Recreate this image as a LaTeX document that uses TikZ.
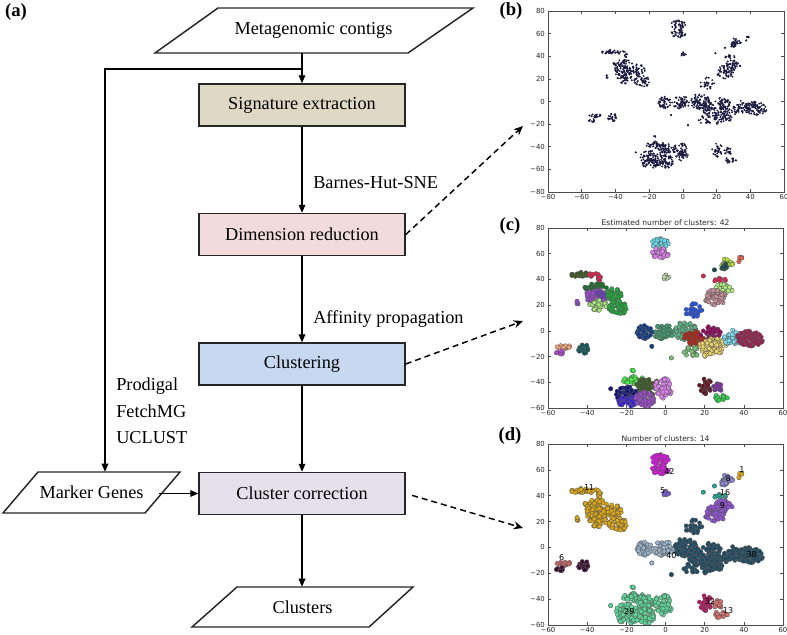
\documentclass[tikz,border=0pt]{standalone}
\usepackage{fontspec}
\setmainfont{Liberation Serif}
\newfontfamily\plotfont{DejaVu Sans}
\usetikzlibrary{arrows.meta}
% flowchart fills
\definecolor{sigfill}{HTML}{DDD9C4}
\definecolor{dimfill}{HTML}{F2DCDB}
\definecolor{clufill}{HTML}{C6D9F1}
\definecolor{corfill}{HTML}{E5E0EC}
% plot (c) colours
\definecolor{cCyan}{HTML}{66DDEE}\definecolor{cViolet}{HTML}{E080F0}
\definecolor{cPaleGreen}{HTML}{C0D8B0}\definecolor{cOlive}{HTML}{3C5A1E}
\definecolor{cCrimson}{HTML}{E0204C}\definecolor{cDkGreen}{HTML}{1E6E2E}
\definecolor{cPurple}{HTML}{9A48D0}\definecolor{cLtGreen}{HTML}{A6E878}
\definecolor{cGreen}{HTML}{1EA83A}\definecolor{cSalmon}{HTML}{F4A878}
\definecolor{cMagPur}{HTML}{B048D8}\definecolor{cTeal}{HTML}{0E5A5A}
\definecolor{cBlueV}{HTML}{3A1EE0}\definecolor{cNavy}{HTML}{10107A}
\definecolor{cBrGreen}{HTML}{40F040}\definecolor{cDkTeal}{HTML}{0E4A4A}
\definecolor{cYelGreen}{HTML}{B8E030}\definecolor{cOrange}{HTML}{E86048}
\definecolor{cLtGreenB}{HTML}{B0F080}\definecolor{cRosy}{HTML}{C88E98}
\definecolor{cDkBlue}{HTML}{0E3A8A}\definecolor{cSeaGreen}{HTML}{3E9A6A}
\definecolor{cMedSea}{HTML}{5AB482}\definecolor{cRed}{HTML}{B82010}
\definecolor{cDkMag}{HTML}{960060}\definecolor{cKhaki}{HTML}{ECD46A}
\definecolor{cBlue}{HTML}{2050E8}\definecolor{cLtSea}{HTML}{78C878}
\definecolor{cSky}{HTML}{78DCF4}\definecolor{cRasp}{HTML}{A01E50}
\definecolor{cDkMaroon}{HTML}{641420}\definecolor{cPurpleB}{HTML}{8030A8}
\definecolor{cGreenB}{HTML}{28D848}\definecolor{cPurpleD}{HTML}{6A3AC8}
% plot (d) colours
\definecolor{dMag}{HTML}{E010E8}\definecolor{dViolet}{HTML}{7A5AE0}
\definecolor{dGold}{HTML}{E0A810}\definecolor{dRose}{HTML}{C86468}
\definecolor{dDark}{HTML}{3A0A2E}\definecolor{dSea}{HTML}{5AD898}
\definecolor{dLav}{HTML}{8C88DC}\definecolor{dTeal}{HTML}{20A898}
\definecolor{dPurple}{HTML}{9050D8}\definecolor{dSteel}{HTML}{98B4CC}
\definecolor{dSlate}{HTML}{1C4A64}\definecolor{dCrimMag}{HTML}{C01468}
\definecolor{dSalmon}{HTML}{D87068}
\definecolor{bdotcol}{HTML}{1A1A40}

\def\plotmode{0}
\newcommand\clu[7]{% cx cy hx hy n colour(c) colour(d)
  \pgfmathtruncatemacro\nn{max(1,round(#5*1.5))}%
  \foreach \k in {1,...,\nn}{%
    \pgfmathsetmacro\rr{pow(rnd,0.62)}%
    \pgfmathsetmacro\aa{360*rnd}%
    \pgfmathsetmacro\cpx{#1+#3*\rr*cos(\aa)}%
    \pgfmathsetmacro\cpy{#2+#4*\rr*sin(\aa)}%
    \ifnum\plotmode=0
      \fill[bdotcol] (\cpx,\cpy) circle (0.8pt);
    \else\ifnum\plotmode=1
      \filldraw[cdot,fill=#6] (\cpx,\cpy) circle (1.6pt);
    \else
      \filldraw[cdot,fill=#7] (\cpx,\cpy) circle (1.6pt);
    \fi\fi
  }%
}
\newcommand\allclusters{%
  \pgfmathsetseed{4711}%
  % top centre
  \clu{-2.5}{68}{4.5}{3.8}{22}{cCyan}{dMag}
  \clu{-2.5}{60.7}{4.5}{4.2}{23}{cViolet}{dMag}
  \clu{0}{42}{2}{1.5}{6}{cPaleGreen}{dViolet}
  % upper left
  \clu{-43.5}{43.5}{4.5}{2.3}{18}{cOlive}{dGold}
  \clu{-36.5}{44}{2.5}{2}{6}{cCrimson}{dGold}
  \clu{-33}{40.5}{1.5}{1.8}{4}{cCrimson}{dGold}
  \clu{-36}{34}{6}{3.2}{23}{cDkGreen}{dGold}
  \clu{-35.5}{27}{6.5}{4.5}{35}{cPurple}{dGold}
  \clu{-33}{28}{3}{3}{8}{cPurpleD}{dGold}
  \clu{-34.5}{20}{4.5}{4.2}{23}{cLtGreen}{dGold}
  \clu{-26.5}{28}{4}{5}{24}{cGreen}{dGold}
  \clu{-24}{18}{5}{5}{30}{cGreen}{dGold}
  \clu{-45}{22}{1}{1.2}{3}{cPurple}{dGold}
  % left small
  \clu{-52}{-12.2}{3.8}{2}{12}{cSalmon}{dRose}
  \clu{-53.5}{-16.5}{2.5}{1.8}{6}{cMagPur}{dDark}
  \clu{-42}{-14}{3.5}{3.5}{15}{cTeal}{dDark}
  % bottom centre
  \clu{-16}{-38.5}{6}{3.5}{25}{cBrGreen}{dSea}
  \clu{-9}{-43}{5.8}{7}{40}{cOlive}{dSea}
  \clu{-20}{-49}{5.5}{6}{40}{cNavy}{dSea}
  \clu{-19}{-55}{6}{4}{29}{cBlueV}{dSea}
  \clu{-10.5}{-53}{5}{6}{36}{cPurple}{dSea}
  \clu{-1}{-44.5}{4.5}{8}{40}{cViolet}{dSea}
  \clu{-28}{-45}{0}{0}{1}{cNavy}{dSea}
  \clu{-17}{-31}{1}{0.5}{2}{cBrGreen}{dSea}
  % right top
  \clu{31}{52}{3.5}{4}{17}{cYelGreen}{dLav}
  \clu{30}{50.5}{2}{3}{7}{cDkTeal}{dLav}
  \clu{39}{57}{1.5}{1.3}{3}{cOrange}{dGold}
  \clu{37.5}{54}{0}{0}{1}{cOrange}{dGold}
  \clu{19.3}{42.7}{0}{0}{1}{cCrimson}{dTeal}
  \clu{25}{47.5}{0}{0}{1}{cDkTeal}{dTeal}
  \clu{28}{39.5}{3}{2}{8}{cCrimson}{dTeal}
  \clu{30}{33}{4.8}{3.7}{21}{cLtGreenB}{dPurple}
  \clu{25.5}{26}{5.5}{6}{38}{cRosy}{dPurple}
  % central
  \clu{14}{16}{4.7}{5.3}{18}{cBlue}{dSlate}
  \clu{-10.5}{-1}{4.2}{5.5}{28}{cDkBlue}{dSteel}
  \clu{-1}{-1}{5}{6}{36}{cSeaGreen}{dSteel}
  \clu{10}{0}{6}{7}{50}{cMedSea}{dSlate}
  \clu{14.5}{-5.5}{5}{6}{36}{cRed}{dSlate}
  \clu{23}{-1.5}{5.5}{5}{33}{cDkMag}{dSlate}
  \clu{24}{-12}{7}{6.5}{55}{cKhaki}{dSlate}
  \clu{34.5}{-5}{5.5}{6}{30}{cSky}{dSlate}
  \clu{43}{-6}{7}{6}{60}{cRasp}{dSlate}
  \clu{13.5}{-16}{4.3}{4}{15}{cLtSea}{dSlate}
  \clu{3}{-21}{0}{0}{1}{cLtSea}{dSlate}
  \clu{-7}{-12}{0}{0}{1}{cDkBlue}{dSteel}
  \clu{20}{-19}{1}{1}{2}{cKhaki}{dSlate}
  % bottom right
  \clu{20.5}{-43}{3.7}{6}{20}{cDkMaroon}{dCrimMag}
  \clu{27}{-44}{2.7}{3.5}{11}{cPurpleB}{dSalmon}
  \clu{28.5}{-52}{3.5}{2.8}{12}{cGreenB}{dSalmon}
}
\newcommand\tl[1]{\ifnum#1<0 −\number\numexpr0-(#1)\relax\else#1\fi}
\newcommand\axesbox[6]{%
  \draw[frame] (#1,#3) rectangle (#2,#4);
  \foreach \t in {#5}{%
    \draw[tickmark] (\t,#3) -- ++(0,2.5pt);
    \draw[tickmark] (\t,#4) -- ++(0,-2.5pt);
    \node[ticklab,anchor=north,yshift=-0.8pt] at (\t,#3) {\tl{\t}};
  }
  \foreach \t in {#6}{%
    \draw[tickmark] (#1,\t) -- ++(2.5pt,0);
    \draw[tickmark] (#2,\t) -- ++(-2.5pt,0);
    \node[ticklab,anchor=east,xshift=-1.2pt] at (#1,\t) {\tl{\t}};
  }
}

\tikzset{
  box/.style={draw=black!85, line width=1.1pt, minimum width=154.5pt,
    minimum height=31.5pt, inner sep=0pt, font=\fontsize{13.7}{16}\selectfont},
  para/.style={draw=black!85, line width=1.1pt},
  iotext/.style={inner sep=0pt, font=\fontsize{13.7}{16}\selectfont},
  lbl/.style={inner sep=0pt, font=\fontsize{13.7}{19.9}\selectfont},
  flow/.style={line width=0.9pt, -{Triangle[length=6pt,width=5pt]}},
  dashlink/.style={line width=1.1pt, dash pattern=on 4.5pt off 3pt,
    -{Stealth[length=7pt,width=6pt]}},
  panel/.style={inner sep=0pt, font=\bfseries\fontsize{14}{16}\selectfont},
  cdot/.style={draw=black!65, line width=0.25pt},
  frame/.style={draw=black!70, line width=0.6pt},
  tickmark/.style={draw=black!70, line width=0.4pt},
  ticklab/.style={inner sep=1pt, text=black!85, font=\plotfont\fontsize{5.2}{6}\selectfont},
  ptitle/.style={inner sep=1.5pt, text=black!85, font=\plotfont\fontsize{5.7}{7}\selectfont},
  clab/.style={inner sep=0pt, font=\plotfont\fontsize{6}{7}\selectfont},
}

\begin{document}
\begin{tikzpicture}[x=0.75pt,y=-0.75pt]
\useasboundingbox (0,0) rectangle (787,634);

% ---------- flowchart ----------
\node[panel] (pa) at (16,12) {(a)};

\draw[para] (218,8) -- (473,8) -- (408,53) -- (155,53) -- cycle;
\node[iotext, minimum height=33.75pt] (meta) at (313.5,30.5) {Metagenomic contigs};

\node[box, fill=sigfill] (sig) at (302,105) {Signature extraction};
\node[box, fill=dimfill] (dim) at (302,234.5) {Dimension reduction};
\node[box, fill=clufill] (clu) at (302,364) {Clustering};
\node[box, fill=corfill] (cor) at (302,493.5) {Cluster correction};

\draw[para] (38,472) -- (180,472) -- (145,513) -- (3,513) -- cycle;
\node[iotext, minimum height=30.75pt, minimum width=101.25pt] (mg) at (91.5,492.5) {Marker Genes};

\draw[para] (237,587) -- (413,587) -- (369,627) -- (192,627) -- cycle;
\node[iotext, minimum height=30pt] (out) at (302.5,607) {Clusters};

\node[lbl, anchor=west] (bh) at (313,183) {Barnes-Hut-SNE};
\node[lbl, anchor=west] (ap) at (313,319) {Affinity propagation};
\node[lbl, anchor=west, align=left] (tools) at (116,411) {Prodigal\\FetchMG\\UCLUST};

\coordinate (j) at (302,69);
\coordinate (k) at (105,69);
\draw[flow] (meta.south -| sig.north) -- (sig.north);
\draw[flow] (j) -- (k) -- (k |- mg.north);
\draw[flow] (sig.south) -- (dim.north);
\draw[flow] (dim.south) -- (clu.north);
\draw[flow] (clu.south) -- (cor.north);
\draw[flow] (mg.east |- cor.west) -- (cor.west);
\draw[flow] (cor.south) -- (cor.south |- out.north);

\coordinate (tb) at (523,126);
\coordinate (tc) at (523,321);
\coordinate (td) at (523,528);
\draw[dashlink] (dim.east) -- (tb);
\draw[dashlink] (clu.east) -- (tc);
\draw[dashlink, shorten <=5pt] (cor.east) -- (td);

% ---------- plot (b) ----------
\node[panel] (pb) at (511,11) {(b)};
\begin{scope}[shift={(682.9,101.5)}, x=1.2645pt, y=0.848pt]
  \def\plotmode{0}
  \allclusters
  \axesbox{-80}{60}{-80}{80}{-80,-60,...,60}{-80,-60,...,80}
\end{scope}

% ---------- plot (c) ----------
\node[panel] (pc) at (510,226) {(c)};
\begin{scope}[shift={(665.5,330.9)}, x=1.4685pt, y=0.9645pt]
  \def\plotmode{1}
  \allclusters
  \axesbox{-60}{60}{-60}{80}{-60,-40,...,60}{-60,-40,...,80}
  \node[ptitle, anchor=south] (tc1) at (0,80) {Estimated number of clusters: 42};
\end{scope}

% ---------- plot (d) ----------
\node[panel] (pd) at (510,436) {(d)};
\begin{scope}[shift={(665.5,547.4)}, x=1.4685pt, y=0.970pt]
  \def\plotmode{2}
  \allclusters
  \axesbox{-60}{60}{-60}{80}{-60,-40,...,60}{-60,-40,...,80}
  \node[ptitle, anchor=south] (td1) at (0,80) {Number of clusters: 14};
  \node[clab] (l42) at (2,59) {42};
  \node[clab] (l5) at (-1.4,44) {5};
  \node[clab] (l11) at (-39,46) {11};
  \node[clab] (l1) at (39,60) {1};
  \node[clab] (l8) at (32,53) {8};
  \node[clab] (l16) at (30.5,42) {16};
  \node[clab] (l9) at (29,32) {9};
  \node[clab] (l40) at (3,-6.5) {40};
  \node[clab] (l38) at (44,-5.6) {38};
  \node[clab] (l6) at (-53,-8) {6};
  \node[clab] (l29) at (-18.5,-50) {29};
  \node[clab] (l32) at (22.7,-42) {32};
  \node[clab] (l13) at (32,-49) {13};
\end{scope}
\end{tikzpicture}
\end{document}
